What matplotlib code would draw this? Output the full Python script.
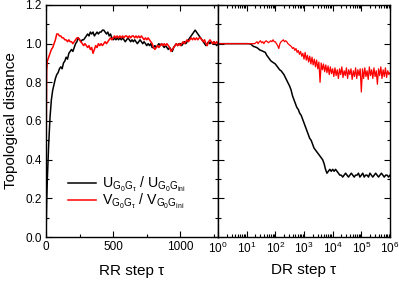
import numpy as np
import matplotlib
matplotlib.use("Agg")
import matplotlib.pyplot as plt
from matplotlib.ticker import MultipleLocator, LogLocator, NullFormatter

plt.rcParams['font.family'] = ['Liberation Sans', 'DejaVu Sans']
plt.rcParams['mathtext.fontset'] = 'custom'
plt.rcParams['mathtext.rm'] = 'Liberation Sans'
plt.rcParams['mathtext.it'] = 'Liberation Sans'
plt.rcParams['mathtext.bf'] = 'Liberation Sans:bold'

# ---------------- data: RR (random rewiring) panel ----------------
rr_steps = [0, 2, 5] + list(range(10, 1281, 10))

rr_U = [0.00, 0.08, 0.18,
        0.30, 0.48, 0.62, 0.71, 0.76, 0.79, 0.82, 0.84, 0.85, 0.87,
        0.88, 0.87, 0.90, 0.91, 0.93, 0.92, 0.95, 0.96, 0.97, 0.96,
        0.98, 1.00, 1.01, 1.03, 1.02, 1.01, 1.02, 1.02, 1.03, 1.04,
        1.05, 1.04, 1.06, 1.05, 1.06, 1.04, 1.05, 1.06, 1.05, 1.06,
        1.06, 1.07, 1.07, 1.06, 1.05, 1.06, 1.04, 1.05, 1.03, 1.02,
        1.03, 1.02, 1.03, 1.02, 1.03, 1.02, 1.03, 1.02, 1.01, 1.02,
        1.03, 1.02, 1.01, 1.02, 1.01, 1.02, 1.01, 1.00, 1.01, 1.02,
        1.01, 1.00, 1.01, 1.00, 0.99, 1.00, 0.99, 1.00, 0.98, 0.98,
        0.99, 0.98, 0.99, 1.00, 0.99, 1.00, 0.99, 0.98, 0.99, 0.98,
        0.97, 0.98, 0.97, 0.96, 0.98, 0.99, 1.00, 0.99, 1.00, 1.00,
        0.99, 1.00, 1.01, 1.00, 1.01, 1.02, 1.03, 1.04, 1.05, 1.06,
        1.07, 1.06, 1.05, 1.04, 1.03, 1.02, 1.01, 1.00, 0.99, 1.00,
        1.01, 1.00, 1.01, 1.00, 1.01, 1.00, 0.99, 1.00]

rr_V = [0.00, 0.55, 0.86,
        0.91, 0.93, 0.95, 0.97, 0.98, 1.00, 1.02, 1.05, 1.05, 1.04,
        1.04, 1.03, 1.03, 1.02, 1.02, 1.01, 1.02, 1.01, 1.01, 1.00,
        1.01, 1.02, 1.03, 1.03, 1.02, 1.01, 1.00, 0.99, 1.00, 0.99,
        0.98, 0.99, 0.97, 0.98, 0.95, 0.97, 0.99, 0.98, 1.00, 0.99,
        1.00, 0.99, 1.00, 1.01, 1.00, 1.01, 1.02, 1.03, 1.02, 1.03,
        1.04, 1.03, 1.04, 1.03, 1.04, 1.03, 1.04, 1.03, 1.04, 1.04,
        1.03, 1.04, 1.03, 1.04, 1.04, 1.03, 1.04, 1.03, 1.04, 1.03,
        1.04, 1.03, 1.02, 1.03, 1.02, 1.03, 1.02, 1.01, 1.00, 0.98,
        0.97, 0.98, 0.99, 0.98, 0.99, 1.00, 0.99, 1.00, 0.99, 1.00,
        0.99, 0.98, 0.96, 0.97, 0.98, 0.99, 1.00, 0.99, 1.00, 0.99,
        1.00, 1.01, 1.00, 1.01, 1.02, 1.01, 1.02, 1.03, 1.02, 1.03,
        1.02, 1.03, 1.02, 1.03, 1.03, 1.02, 1.01, 1.02, 1.00, 0.99,
        1.01, 1.02, 1.01, 1.00, 1.01, 1.00, 1.01, 1.00]

# ---------------- data: DR panel (log steps) ----------------
dr_steps_U = np.logspace(0, 6, 121)
dr_U = [1.00, 1.00, 1.00, 1.00, 1.00, 1.00, 1.00, 1.00, 1.00, 1.00,
        1.00, 1.00, 1.00, 1.00, 1.00, 1.00, 1.00, 1.00, 1.00, 1.00,
        1.00, 1.00, 0.999, 0.998, 0.99, 0.985, 0.983, 0.98, 0.975, 0.968,
        0.965, 0.962, 0.958, 0.955, 0.94, 0.93, 0.92, 0.91, 0.905, 0.90,
        0.895, 0.885, 0.875, 0.865, 0.86, 0.85, 0.84, 0.825, 0.81, 0.795,
        0.78, 0.76, 0.73, 0.71, 0.69, 0.67, 0.66, 0.64, 0.63, 0.61,
        0.59, 0.57, 0.55, 0.53, 0.51, 0.50, 0.48, 0.46, 0.45, 0.44,
        0.43, 0.42, 0.41, 0.40, 0.38, 0.35, 0.33, 0.34, 0.35, 0.34,
        0.35, 0.34, 0.35, 0.34, 0.33, 0.32, 0.32, 0.31, 0.32, 0.33,
        0.32, 0.31, 0.32, 0.33, 0.32, 0.31, 0.32, 0.32, 0.33, 0.31,
        0.32, 0.33, 0.31, 0.32, 0.32, 0.31, 0.33, 0.32, 0.31, 0.32,
        0.33, 0.32, 0.31, 0.32, 0.33, 0.32, 0.31, 0.32, 0.32, 0.31,
        0.32]

dr_steps_V = np.logspace(0, 6, 151)
dr_V = [1.00, 1.00, 1.00, 1.00, 1.00, 1.00, 1.00, 1.00, 1.00, 1.00,
        1.00, 1.00, 1.00, 1.00, 1.00, 1.00, 1.00, 1.00, 1.00, 1.00,
        1.00, 1.00, 1.00, 1.00, 1.00,
        1.00, 1.00, 1.00, 1.00, 1.00, 1.00, 1.00, 1.00, 1.005, 1.01,
        1.00, 1.01, 1.015, 1.005, 1.01, 1.00, 1.01, 1.015, 1.01, 1.005,
        1.01, 1.015, 1.01, 1.02, 1.01,
        1.01, 1.00, 0.99, 0.975, 1.00, 1.01, 1.015, 1.02, 1.01, 1.015,
        1.01, 1.00, 0.995, 0.99, 0.985, 0.975, 0.98, 0.965, 0.975, 0.955,
        0.965, 0.945, 0.96, 0.935, 0.95,
        0.92, 0.955, 0.915, 0.94, 0.905, 0.935, 0.895, 0.93, 0.89, 0.92,
        0.88, 0.915, 0.87, 0.905, 0.80, 0.90, 0.865, 0.895, 0.855, 0.89,
        0.85, 0.885, 0.84, 0.88, 0.845,
        0.87, 0.83, 0.875, 0.835, 0.865, 0.82, 0.87, 0.84, 0.88, 0.825,
        0.86, 0.835, 0.875, 0.82, 0.865, 0.84, 0.87, 0.815, 0.86, 0.83,
        0.875, 0.82, 0.865, 0.835, 0.87,
        0.75, 0.87, 0.82, 0.875, 0.83, 0.86, 0.815, 0.88, 0.835, 0.865,
        0.82, 0.875, 0.83, 0.86, 0.79, 0.87, 0.835, 0.88, 0.82, 0.865,
        0.83, 0.875, 0.825, 0.86, 0.84,
        0.85]

label_U = r'$\mathrm{U_{G_0G_\tau}}$ / $\mathrm{U_{G_0G_{ini}}}$'
label_V = r'$\mathrm{V_{G_0G_\tau}}$ / $\mathrm{V_{G_0G_{ini}}}$'

W, H = 399, 281
fig = plt.figure(figsize=(W / 100, H / 100), dpi=100)
x0, x1, x2 = 46, 218, 390
ytop, ybot = 5, 237
axL = fig.add_axes([x0 / W, (H - ybot) / H, (x1 - x0) / W, (ybot - ytop) / H])
axR = fig.add_axes([x1 / W, (H - ybot) / H, (x2 - x1) / W, (ybot - ytop) / H])

lw = 1.1
axL.plot(rr_steps, rr_U, color='black', lw=lw, label=label_U)
axL.plot(rr_steps, rr_V, color='red', lw=lw, label=label_V)
axR.plot(dr_steps_U, dr_U, color='black', lw=lw)
axR.plot(dr_steps_V, dr_V, color='red', lw=0.9)

axL.set_xlim(0, 1280)
axL.set_ylim(0, 1.2)
axL.xaxis.set_major_locator(MultipleLocator(500))
axL.xaxis.set_minor_locator(MultipleLocator(250))
axL.yaxis.set_major_locator(MultipleLocator(0.2))
axL.yaxis.set_minor_locator(MultipleLocator(0.1))
axL.yaxis.set_major_formatter(matplotlib.ticker.FormatStrFormatter('%.1f'))

axR.set_xscale('log')
axR.set_xlim(1, 1e6)
axR.set_ylim(0, 1.2)
axR.xaxis.set_major_locator(LogLocator(base=10, numticks=10))
axR.xaxis.set_minor_locator(LogLocator(base=10, subs=np.arange(2, 10), numticks=20))
axR.xaxis.set_minor_formatter(NullFormatter())
axR.yaxis.set_major_locator(MultipleLocator(0.2))
axR.yaxis.set_minor_locator(MultipleLocator(0.1))

for ax in (axL, axR):
    ax.tick_params(which='both', direction='in', top=True, right=True, labelsize=8.5, pad=3)
    ax.tick_params(which='major', length=4, width=0.8)
    ax.tick_params(which='minor', length=2.5, width=0.8)
    for s in ax.spines.values():
        s.set_linewidth(1.0)
axR.tick_params(axis='y', which='both', labelleft=False)

axL.set_xlabel('RR step τ', fontsize=11, labelpad=8)
axR.set_xlabel('DR step τ', fontsize=11, labelpad=5)
axL.set_ylabel('Topological distance', fontsize=11, labelpad=5)

axL.legend(loc='center left', bbox_to_anchor=(0.07, 0.19), frameon=False,
           fontsize=10.2, handlelength=2.0, handletextpad=0.4, labelspacing=-0.1,
           borderpad=0.2)

fig.savefig('out.png', dpi=100)
